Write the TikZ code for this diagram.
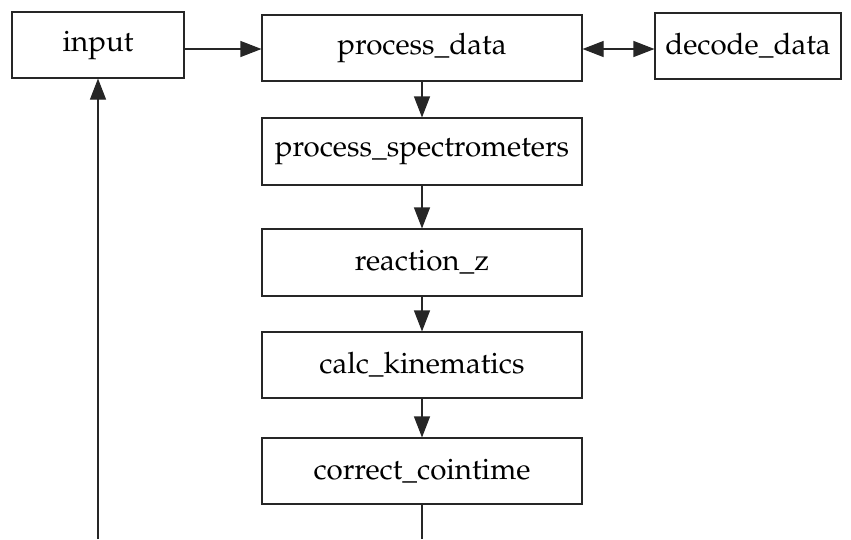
\documentclass[tikz,border=0pt]{standalone}
\usepackage[T1]{fontenc}
\usepackage{mathpazo}
\usetikzlibrary{arrows.meta}
\tikzset{
  block/.style={draw=black!85, line width=1.1pt, minimum height=66pt, inner sep=0pt,
                font=\fontsize{29.5}{34}\selectfont},
  link/.style={draw=black!85, line width=1.1pt},
  head/.tip={Triangle[length=21pt,width=16pt]},
  tip/.style={-head},
}
\begin{document}
\begin{tikzpicture}[x=1pt,y=-1pt]
  \useasboundingbox (0,0) rectangle (851,539);

  \node[block, minimum width=172pt] (input) at (98,45) {input};
  \node[block, minimum width=320pt] (proc) at (422,48) {process\_data};
  \node[block, minimum width=186pt] (decode) at (748,46) {decode\_data};
  \node[block, minimum width=320pt, minimum height=67pt] (spec) at (422,151.5) {process\_spectrometers};
  \node[block, minimum width=320pt, minimum height=67pt] (reac) at (422,262.5) {reaction\_z};
  \node[block, minimum width=320pt] (kin) at (422,365) {calc\_kinematics};
  \node[block, minimum width=320pt] (coin) at (422,471) {correct\_cointime};

  \coordinate (loopin) at (98,539);
  \coordinate (loopout) at (422,539);

  \draw[link, tip] (input.east |- 0,49) -- (proc.west |- 0,49);
  \draw[link, head-head] (proc.east |- 0,49) -- (decode.west |- 0,49);
  \draw[link, tip] (proc.south) -- (spec.north);
  \draw[link, tip] (spec.south) -- (reac.north);
  \draw[link, tip] (reac.south) -- (kin.north);
  \draw[link, tip] (kin.south) -- (coin.north);
  \draw[link] (coin.south) -- (loopout);
  \draw[link, tip] (loopin) -- (input.south);
\end{tikzpicture}
\end{document}
